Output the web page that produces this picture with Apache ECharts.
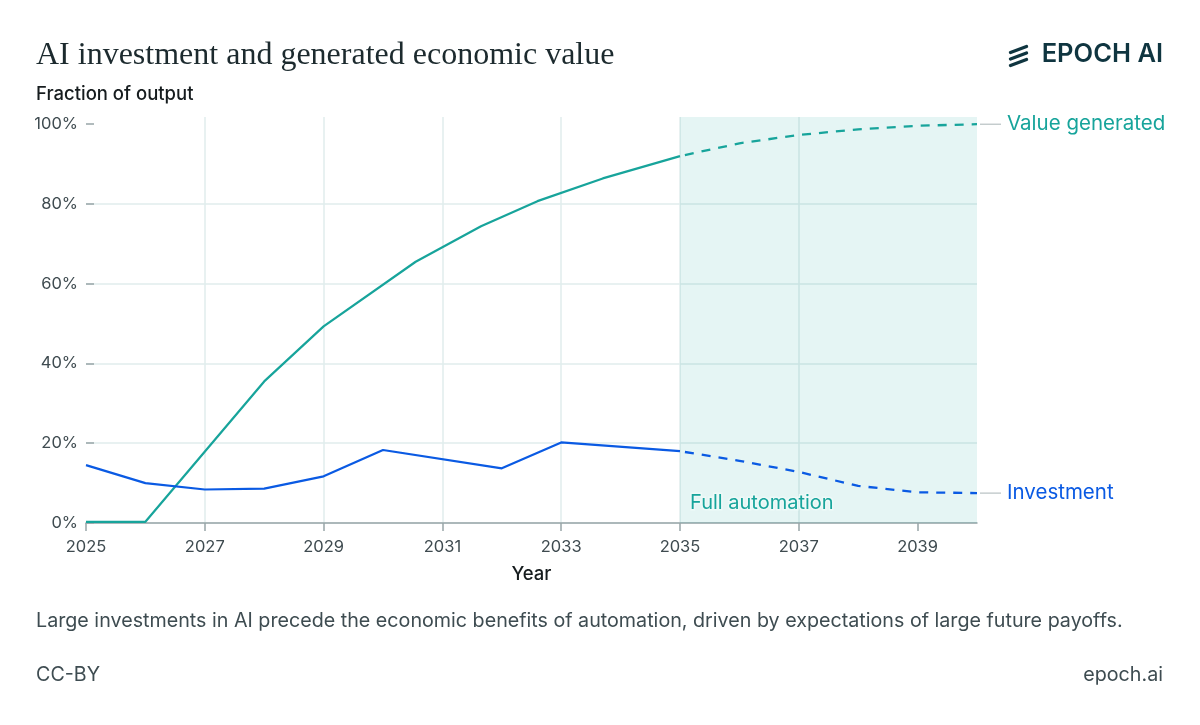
<!DOCTYPE html>
<html>
<head>
<meta charset="utf-8">
<script src="https://cdn.jsdelivr.net/npm/echarts@6/dist/echarts.min.js"></script>
<style>
  html, body { margin: 0; padding: 0; background: #ffffff; }
  #chart { width: 1200px; height: 725px; }
</style>
</head>
<body>
<div id="chart"></div>
<script>
// ---- Data ----
const valueYears = [2025, 2026, 2028, 2029, 2030.55, 2031.65, 2032.6, 2033.7, 2035];
const valueHistoric = [0.3, 0.3, 35.5, 49.3, 65.5, 74.4, 80.7, 86.4, 92.0];
const valueForecastYears = [2035, 2036, 2037, 2038, 2039, 2040];
const valueForecast = [92.0, 95.2, 97.3, 98.7, 99.6, 100.0];

const investYears = [2025, 2026, 2027, 2028, 2029, 2030, 2032, 2033, 2035];
const investHistoric = [14.5, 10.0, 8.4, 8.6, 11.7, 18.3, 13.7, 20.2, 18.0];
const investForecastYears = [2035, 2036, 2037, 2038, 2039, 2040];
const investForecast = [18.0, 15.6, 12.8, 9.3, 7.7, 7.5];

const xTickYears = [2025, 2027, 2029, 2031, 2033, 2035, 2037, 2039];
const yTicks = [0, 20, 40, 60, 80, 100];
const automationStart = 2035;
const automationEnd = 2040;

const seriesNames = { value: 'Value generated', invest: 'Investment' };
const regionLabel = 'Full automation';

// ---- Styles ----
const TEAL = '#17a49b';
const BLUE = '#0a5ae3';
const GRID = '#e1ecec';
const AXIS = '#98a5a8';
const LABEL = '#3f4b50';
const FONT = 'Inter, "Noto Sans", sans-serif';

function pairs(xs, ys) { return xs.map((x, i) => [x, ys[i]]); }

const chart = echarts.init(document.getElementById('chart'), null, { renderer: 'canvas' });

function endLabel(name, color) {
  return {
    show: true,
    formatter: '{lead|}{txt|' + name + '}',
    distance: 3,
    rich: {
      lead: { width: 21, height: 1, backgroundColor: '#a9b4b6', verticalAlign: 'middle' },
      txt: { color: color, fontSize: 20.5, fontFamily: FONT, padding: [0, 0, 0, 6], verticalAlign: 'middle' }
    }
  };
}

chart.setOption({
  animation: false,
  backgroundColor: '#ffffff',
  textStyle: { fontFamily: FONT },
  title: [
    { text: 'AI investment and generated economic value', left: 36, top: 40, padding: 0,
      textStyle: { fontFamily: '"Liberation Serif", "DejaVu Serif", serif', fontSize: 32, fontWeight: 'normal', color: '#1c2a2e' } },
    { text: 'Fraction of output', left: 36, top: 85, padding: 0,
      textStyle: { fontFamily: FONT, fontSize: 18.5, fontWeight: 500, color: '#161c1e' } },
    { text: 'Large investments in AI precede the economic benefits of automation, driven by expectations of large future payoffs.',
      left: 36, top: 611, padding: 0, textStyle: { fontFamily: FONT, fontSize: 19.7, fontWeight: 'normal', color: '#3e4c51' } },
    { text: 'CC-BY', left: 36, top: 665, padding: 0, textStyle: { fontFamily: FONT, fontSize: 19.7, fontWeight: 'normal', color: '#3e4c51' } },
    { text: 'epoch.ai', right: 37, top: 665, padding: 0, textStyle: { fontFamily: FONT, fontSize: 19.7, fontWeight: 'normal', color: '#3e4c51' } }
  ],
  graphic: [
    { type: 'group', left: 1008, top: 44, children: [
      { type: 'line', shape: { x1: 2, y1: 7, x2: 18, y2: 1 }, style: { stroke: '#0f3540', lineWidth: 3.4, lineCap: 'round' } },
      { type: 'line', shape: { x1: 2, y1: 13.5, x2: 18, y2: 7.5 }, style: { stroke: '#0f3540', lineWidth: 3.4, lineCap: 'round' } },
      { type: 'line', shape: { x1: 2, y1: 20, x2: 18, y2: 14 }, style: { stroke: '#0f3540', lineWidth: 3.4, lineCap: 'round' } }
    ]},
    { type: 'text', right: 37, top: 41, style: { text: 'EPOCH AI', fontFamily: FONT, fontSize: 25.5, fontWeight: 600, fill: '#0f3540' } }
  ],
  grid: { left: 86, right: 223, top: 117, bottom: 202, containLabel: false },
  xAxis: {
    type: 'value', min: 2025, max: 2040,
    name: 'Year', nameLocation: 'middle', nameGap: 42,
    nameTextStyle: { fontFamily: FONT, fontSize: 18.5, fontWeight: 500, color: '#161c1e' },
    axisLine: { show: true, lineStyle: { color: AXIS, width: 1.5 } },
    axisTick: { show: true, length: 8, lineStyle: { color: AXIS, width: 1.5 }, customValues: xTickYears },
    axisLabel: { customValues: xTickYears, margin: 16, fontSize: 16.5, color: LABEL, fontFamily: FONT, formatter: v => String(v) },
    splitLine: { show: true, showMinLine: false, showMaxLine: false, lineStyle: { color: GRID, width: 1.5 } }
  },
  yAxis: {
    type: 'value', min: 0, max: 101.8,
    axisLine: { show: false },
    axisTick: { show: true, inside: true, length: 8, lineStyle: { color: AXIS, width: 1.5 }, customValues: yTicks },
    axisLabel: { customValues: yTicks, margin: 8, fontSize: 16.5, color: LABEL, fontFamily: FONT, formatter: v => v + '%' },
    splitLine: { show: true, showMaxLine: false, lineStyle: { color: GRID, width: 1.5 } }
  },
  series: [
    {
      name: seriesNames.value, type: 'line', data: pairs(valueYears, valueHistoric),
      showSymbol: false, symbol: 'none', lineStyle: { color: TEAL, width: 2.2 }, z: 3,
      markArea: {
        silent: true,
        itemStyle: { color: 'rgba(22,163,153,0.11)' },
        label: { show: true, position: 'insideBottomLeft', formatter: regionLabel, distance: 10,
                 color: TEAL, fontSize: 20, fontFamily: FONT,
                 textBorderColor: '#eef9f8', textBorderWidth: 3 },
        data: [[{ xAxis: automationStart, name: regionLabel }, { xAxis: automationEnd }]]
      }
    },
    {
      name: seriesNames.value + ' (forecast)', type: 'line', data: pairs(valueForecastYears, valueForecast),
      showSymbol: false, symbol: 'none', lineStyle: { color: TEAL, width: 2.3, type: [9, 8], dashOffset: -5 }, z: 3,
      endLabel: endLabel(seriesNames.value, TEAL)
    },
    {
      name: seriesNames.invest, type: 'line', data: pairs(investYears, investHistoric),
      showSymbol: false, symbol: 'none', lineStyle: { color: BLUE, width: 2.2 }, z: 3
    },
    {
      name: seriesNames.invest + ' (forecast)', type: 'line', data: pairs(investForecastYears, investForecast),
      showSymbol: false, symbol: 'none', lineStyle: { color: BLUE, width: 2.3, type: [9, 8], dashOffset: -5 }, z: 3,
      endLabel: endLabel(seriesNames.invest, BLUE)
    }
  ]
});
</script>
</body>
</html>
